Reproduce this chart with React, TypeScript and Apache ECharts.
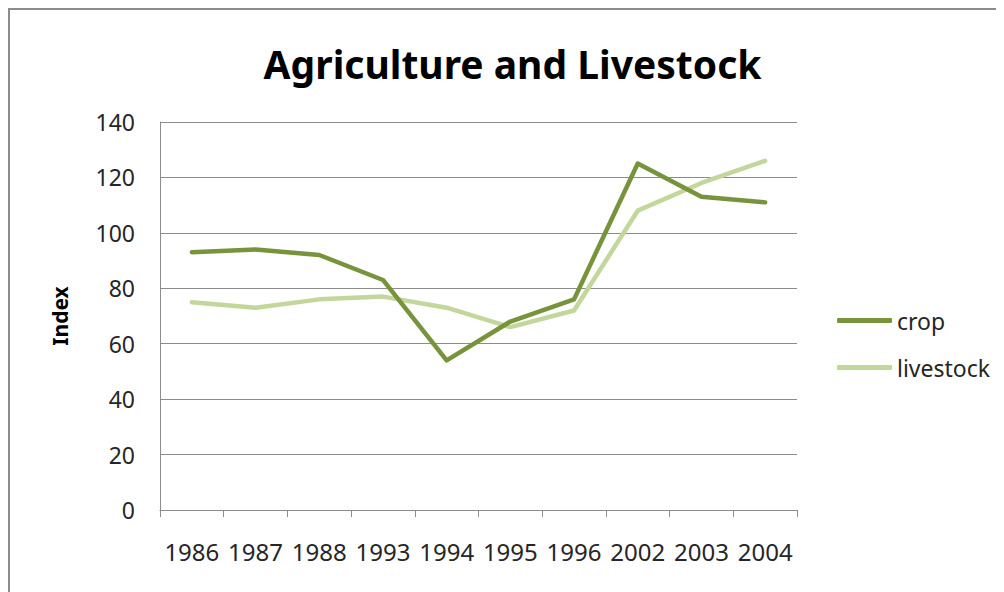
import React, { useEffect, useRef } from "react";
import * as echarts from "echarts";

// Years on the category axis
const years = ["1986", "1987", "1988", "1993", "1994", "1995", "1996", "2002", "2003", "2004"];
// Index values per year
const crop = [93, 94, 92, 83, 54, 68, 76, 125, 113, 111];
const livestock = [75, 73, 76, 77, 73, 66, 72, 108, 118, 126];
// Value axis range
const yMin = 0;
const yMax = 140;
const yStep = 20;

const FONT = "'Noto Sans', 'DejaVu Sans', sans-serif";
const GRID_COLOR = "#8c8c8c";
const TEXT_COLOR = "#262626";
const CROP_COLOR = "#77933c";
const LIVESTOCK_COLOR = "#c3d69b";

export default function App() {
  const ref = useRef<HTMLDivElement>(null);

  useEffect(() => {
    document.documentElement.style.overflow = "hidden";
    const chart = echarts.init(ref.current!, undefined, { renderer: "svg" });
    chart.setOption({
      animation: false,
      backgroundColor: "#ffffff",
      title: {
        text: "Agriculture and Livestock",
        left: "center",
        top: 29,
        textStyle: {
          fontFamily: FONT,
          fontWeight: "bold",
          fontSize: 39,
          color: "#000000",
        },
      },
      grid: { left: 150, top: 112, width: 637, height: 388 },
      legend: {
        orient: "vertical",
        left: 827,
        top: 299,
        padding: 0,
        icon: "roundRect",
        itemWidth: 55,
        itemHeight: 5,
        itemGap: 24,
        textStyle: { fontFamily: FONT, fontSize: 23, color: TEXT_COLOR },
        data: ["crop", "livestock"],
      },
      xAxis: {
        type: "category",
        data: years,
        boundaryGap: true,
        axisLine: { show: true, lineStyle: { color: GRID_COLOR, width: 1 } },
        axisTick: { show: true, length: 7, interval: 0, lineStyle: { color: GRID_COLOR } },
        axisLabel: {
          interval: 0,
          margin: 29,
          fontFamily: FONT,
          fontSize: 24,
          color: TEXT_COLOR,
        },
        splitLine: { show: false },
      },
      yAxis: {
        type: "value",
        min: yMin,
        max: yMax,
        interval: yStep,
        name: "Index",
        nameLocation: "middle",
        nameRotate: 90,
        nameGap: 90,
        nameTextStyle: {
          fontFamily: FONT,
          fontWeight: "bold",
          fontSize: 21,
          color: "#000000",
        },
        axisLine: { show: true, lineStyle: { color: GRID_COLOR, width: 1 } },
        axisTick: { show: false },
        axisLabel: {
          margin: 25,
          fontFamily: FONT,
          fontSize: 23,
          color: TEXT_COLOR,
        },
        splitLine: { show: true, lineStyle: { color: GRID_COLOR, width: 1 } },
      },
      series: [
        {
          name: "crop",
          type: "line",
          data: crop,
          symbol: "none",
          smooth: false,
          color: CROP_COLOR,
          lineStyle: { color: CROP_COLOR, width: 4.5, cap: "round", join: "round" },
          z: 3,
        },
        {
          name: "livestock",
          type: "line",
          data: livestock,
          symbol: "none",
          smooth: false,
          color: LIVESTOCK_COLOR,
          lineStyle: { color: LIVESTOCK_COLOR, width: 4.5, cap: "round", join: "round" },
          z: 2,
        },
      ],
    });
    return () => chart.dispose();
  }, []);

  return (
    <div
      style={{
        border: "2px solid #8c8c8c",
        width: 1005,
        height: 600,
        boxSizing: "content-box",
      }}
    >
      <div ref={ref} style={{ width: 1005, height: 600 }} />
    </div>
  );
}
